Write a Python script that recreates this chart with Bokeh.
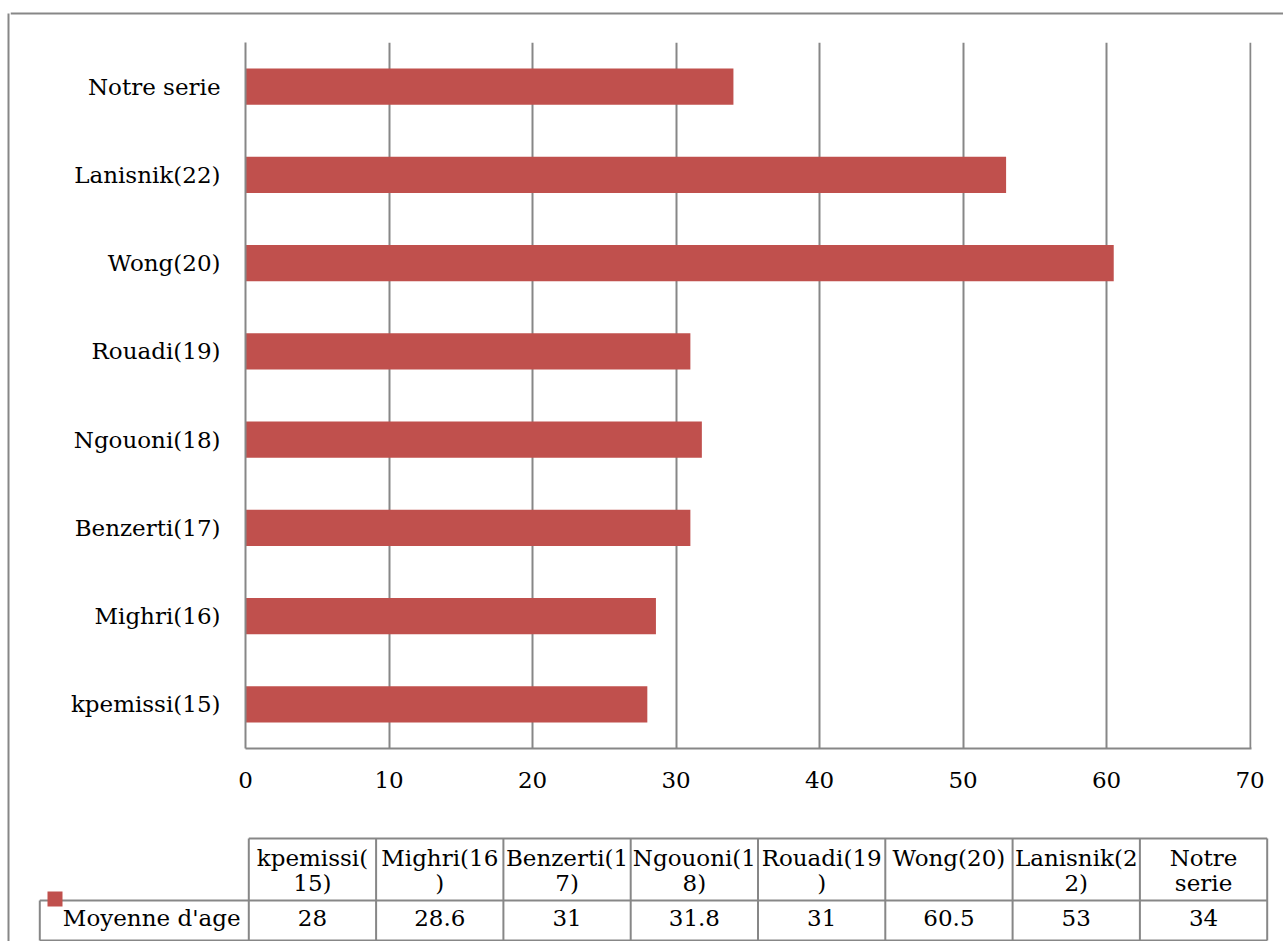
from bokeh.plotting import figure
from bokeh.layouts import row, column
from bokeh.models import Range1d, FactorRange, FixedTicker
from bokeh.core.properties import value
from bokeh.embed import file_html
from bokeh.resources import INLINE

# Mean age per study
studies = ["kpemissi(15)", "Mighri(16)", "Benzerti(17)", "Ngouoni(18)",
           "Rouadi(19)", "Wong(20)", "Lanisnik(22)", "Notre serie"]
mean_age = [28, 28.6, 31, 31.8, 31, 60.5, 53, 34]
series_name = "Moyenne d'age"
x_ticks = [0, 10, 20, 30, 40, 50, 60, 70]

# Column headings of the data table, wrapped on two lines
header_lines = [("kpemissi(", "15)"), ("Mighri(16", ")"), ("Benzerti(1", "7)"),
                ("Ngouoni(1", "8)"), ("Rouadi(19", ")"), ("Wong(20)", ""),
                ("Lanisnik(2", "2)"), ("Notre", "serie")]

BAR = "#C0504D"
GRID = "#878787"
FONT = "DejaVu Serif"
FS = "23px"

W, H = 1283, 941
LEFT_STRIP, TOP_STRIP, TABLE_H = 10, 15, 121
INNER_W = W - LEFT_STRIP
CHART_H = H - TOP_STRIP - TABLE_H


def blank(width, height, xr, yr):
    f = figure(width=width, height=height, output_backend="svg", toolbar_location=None,
               x_range=xr, y_range=yr, min_border=0, min_border_left=0,
               min_border_right=0, min_border_top=0, min_border_bottom=0,
               frame_align=False)
    f.xaxis.visible = False
    f.yaxis.visible = False
    f.grid.visible = False
    f.outline_line_color = None
    f.border_fill_color = "white"
    f.background_fill_color = "white"
    return f


# frame lines around the chart (left and top)
left_strip = blank(LEFT_STRIP, H, Range1d(0, LEFT_STRIP), Range1d(H, 0))
left_strip.segment(x0=[8], y0=[13], x1=[8], y1=[H], line_color=GRID, line_width=2)

top_strip = blank(INNER_W, TOP_STRIP, Range1d(LEFT_STRIP, W), Range1d(TOP_STRIP, 0))
top_strip.segment(x0=[LEFT_STRIP], y0=[13], x1=[W], y1=[13], line_color=GRID, line_width=2)

# bar chart
p = figure(width=INNER_W, height=CHART_H, output_backend="svg", toolbar_location=None,
           x_range=Range1d(0, 70.1), y_range=FactorRange(*studies),
           min_border_left=245 - LEFT_STRIP, min_border_right=32,
           min_border_top=42 - TOP_STRIP, min_border_bottom=TOP_STRIP + CHART_H - 748,
           frame_align=False)
p.outline_line_color = None
p.background_fill_color = "white"
p.border_fill_color = "white"

p.hbar(y=studies, right=mean_age, left=0, height=0.41, color=BAR, line_color=None)

xa = p.xaxis[0]
xa.ticker = FixedTicker(ticks=x_ticks)
xa.axis_line_color = GRID
xa.axis_line_width = 2
xa.major_tick_line_color = None
xa.minor_tick_line_color = None
xa.major_label_text_font = FONT
xa.major_label_text_font_size = FS
xa.major_label_text_color = "black"
xa.major_label_standoff = 17

ya = p.yaxis[0]
ya.axis_line_color = GRID
ya.axis_line_width = 2
ya.major_tick_line_color = None
ya.minor_tick_line_color = None
ya.major_tick_out = 0
ya.major_label_text_font = FONT
ya.major_label_text_font_size = FS
ya.major_label_text_color = "black"
ya.major_label_standoff = 25

p.xgrid.ticker = FixedTicker(ticks=x_ticks)
p.xgrid.grid_line_color = GRID
p.xgrid.grid_line_width = 2
p.ygrid.grid_line_color = None

# data table under the chart
t = blank(INNER_W, TABLE_H, Range1d(LEFT_STRIP, W), Range1d(H, H - TABLE_H))
tbl_left, tbl_x0, col_w = 39.3, 248.3, 127.3
top, mid, bot = 838, 900, 940
n = len(studies)
tbl_right = tbl_x0 + n * col_w

hx0 = [tbl_x0, tbl_left, tbl_left]
hx1 = [tbl_right] * 3
hy = [top, mid, bot]
vx = [tbl_left] + [tbl_x0 + i * col_w for i in range(n + 1)]
vy0 = [mid] + [top] * (n + 1)
vy1 = [bot] * (n + 2)
t.segment(x0=hx0, y0=hy, x1=hx1, y1=hy, line_color=GRID, line_width=2)
t.segment(x0=vx, y0=vy0, x1=vx, y1=vy1, line_color=GRID, line_width=2)

centers = [tbl_x0 + (i + 0.5) * col_w for i in range(n)]
text_style = dict(text_font=value(FONT), text_font_size=value(FS), text_color="black",
                  text_baseline="alphabetic")
t.text(x=centers, y=[857] * n, text=[a for a, b in header_lines],
       text_align="center", **text_style)
t.text(x=centers, y=[882] * n, text=[b for a, b in header_lines],
       text_align="center", **text_style)
t.text(x=centers, y=[917] * n, text=[f"{v:g}" for v in mean_age],
       text_align="center", **text_style)
t.text(x=[240], y=[917], text=[series_name], text_align="right", **text_style)

# legend key of the series
t.quad(left=[47], right=[62], top=[891], bottom=[906], color=BAR, line_color=None)

layout = row(left_strip, column(top_strip, p, t))
open("out.html", "w").write(file_html(layout, INLINE))
